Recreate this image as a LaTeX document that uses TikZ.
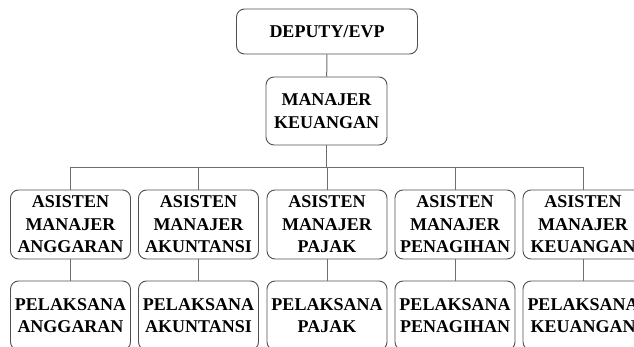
\documentclass[tikz,border=0pt]{standalone}
\usepackage{fontspec}
\setmainfont{Liberation Serif}
\usetikzlibrary{positioning}
\definecolor{boxLine}{RGB}{80,80,80}
\definecolor{linkGray}{RGB}{110,110,110}
\tikzset{
  orgbox/.style={rounded corners=8pt, draw=boxLine, fill=white, line width=0.9pt, align=center,
                 font=\fontsize{18}{22.5}\selectfont\bfseries, inner sep=0pt,
                 minimum width=120pt, minimum height=69pt},
  topbox/.style={orgbox, minimum width=181pt, minimum height=45pt},
  link/.style={draw=linkGray, line width=1pt}
}

\begin{document}
\begin{tikzpicture}[x=1pt, y=-1pt]
\useasboundingbox (0,0) rectangle (634,347);
\clip (0,0) rectangle (634,347);
\node[topbox] (deputy) at (327,31.5) {DEPUTY/EVP};
\node[orgbox, minimum width=121pt, minimum height=68pt] (manajer) at (326.5,111) {MANAJER\\KEUANGAN};
\coordinate (bus) at (326.5,167.5);
\foreach \x/\n/\t in {70.5/A/ANGGARAN, 198.5/B/AKUNTANSI, 327/C/PAJAK, 455/D/PENAGIHAN, 583/E/KEUANGAN}{
  \node[orgbox] (as\n) at (\x,224.5) {ASISTEN\\MANAJER\\\t};
  \node[orgbox] (pl\n) at (\x,315.5) {PELAKSANA\\\t};
  \draw[link] (as\n) -- (pl\n);
  \draw[link] (as\n.north) |- (bus);
}
\draw[link] (deputy) -- (manajer);
\draw[link] (manajer) -- (bus);
\end{tikzpicture}
\end{document}
